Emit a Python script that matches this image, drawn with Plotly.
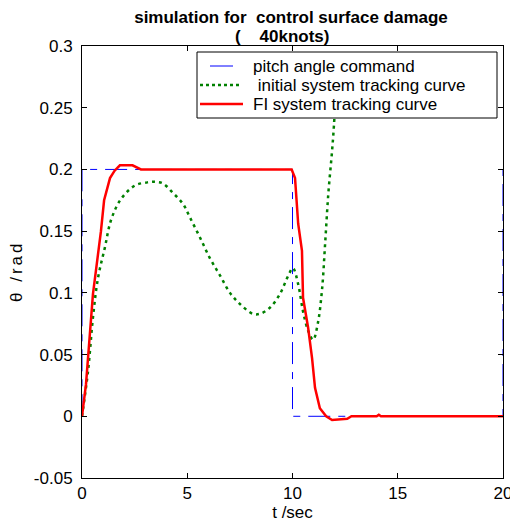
import plotly.graph_objects as go

# ---- data ----
t_cmd = [0, 0, 10, 10, 20, 20]
y_cmd = [0, 0.2, 0.2, 0, 0, 0.2]

t_init = [0, 0.29, 0.52, 0.76, 1.09, 1.38, 1.85, 2.52, 3.1, 3.47, 3.85, 4.32, 4.8, 5.13,
          5.6, 6.08, 6.56, 7.03, 7.5, 8.12, 8.45, 8.93, 9.4, 9.8, 10.02, 10.27, 10.5,
          10.75, 10.98, 11.2, 11.4, 11.55, 11.7, 11.88, 11.97, 12.12]
y_init = [0, 0.037, 0.080, 0.112, 0.137, 0.159, 0.176, 0.187, 0.1895, 0.190, 0.1886, 0.181,
          0.172, 0.161, 0.145, 0.128, 0.114, 0.100, 0.091, 0.083, 0.083, 0.088, 0.099,
          0.114, 0.120, 0.107, 0.085, 0.069, 0.062, 0.075, 0.102, 0.140, 0.180, 0.215,
          0.236, 0.285]

t_fi = [0, 0.19, 0.52, 0.9, 1.05, 1.33, 1.55, 1.8, 2.4, 2.8, 9.96, 10.12, 10.27, 10.45,
        10.5, 10.74, 10.93, 11.07, 11.3, 11.6, 11.88, 12.6, 12.8, 14.0, 14.1, 14.2, 20]
y_fi = [0, 0.026, 0.099, 0.150, 0.175, 0.193, 0.199, 0.2033, 0.2033, 0.200, 0.200, 0.193,
        0.156, 0.134, 0.096, 0.072, 0.047, 0.023, 0.0065, 0.0, -0.003, -0.002, 0.0, 0.0,
        0.0012, 0.0, 0.0]

series_names = ["pitch angle command", " initial system tracking curve", "FI system tracking curve"]
series_colors = ["blue", "#008000", "red"]

x_ticks = [0, 5, 10, 15, 20]
x_tick_labels = ["0", "5", "10", "15", "20"]
y_ticks = [-0.05, 0, 0.05, 0.1, 0.15, 0.2, 0.25, 0.3]
y_tick_labels = ["-0.05", "0", "0.05", "0.1", "0.15", "0.2", "0.25", "0.3"]

FONT = "Liberation Sans, Arial, sans-serif"
FS = 17

# plot-area geometry (pixels) for placing decorations
W, H = 510, 523
L, R, T, B = 82, 503, 46, 478


def px_x(p):
    return (p - L) / (R - L)


def px_y(p):
    return (B - p) / (B - T)


fig = go.Figure()
fig.add_trace(go.Scatter(x=t_cmd, y=y_cmd, mode="lines", name=series_names[0],
                         line=dict(color=series_colors[0], width=1, dash="22px,8px,7px,8px")))
fig.add_trace(go.Scatter(x=t_init, y=y_init, mode="lines", name=series_names[1],
                         line=dict(color=series_colors[1], width=2.5, dash="3px,4px", shape="spline")))
fig.add_trace(go.Scatter(x=t_fi, y=y_fi, mode="lines", name=series_names[2],
                         line=dict(color=series_colors[2], width=2.5)))

axis_common = dict(showline=True, linecolor="black", linewidth=1, mirror="ticks",
                   ticks="inside", ticklen=5, tickcolor="black", showgrid=False,
                   zeroline=False, automargin=False, ticklabeloverflow="allow",
                   tickfont=dict(family=FONT, size=FS, color="black"))

# ---- legend (MATLAB-style box drawn inside the axes) ----
shapes = [dict(type="rect", xref="paper", yref="paper", x0=px_x(197), x1=px_x(497),
               y0=px_y(118), y1=px_y(52), fillcolor="white",
               line=dict(color="black", width=1), layer="above")]
rows = [66, 85, 104]
samples = [(210, 233, dict(color="blue", width=1)),
           (200, 242, dict(color="#008000", width=2.5, dash="3px,3px")),
           (200, 243, dict(color="red", width=2.5))]
annotations = []
for (x0, x1, ln), ry, name in zip(samples, rows, series_names):
    shapes.append(dict(type="line", xref="paper", yref="paper", x0=px_x(x0), x1=px_x(x1),
                       y0=px_y(ry), y1=px_y(ry), line=ln, layer="above"))
    annotations.append(dict(text=name, xref="paper", yref="paper", x=px_x(251), y=px_y(ry),
                            xanchor="left", yanchor="middle", showarrow=False,
                            font=dict(family=FONT, size=FS, color="black")))

# second title line
annotations.append(dict(text="<b>(    40knots)</b>", xref="paper", yref="paper",
                        x=px_x(282), y=px_y(36), xanchor="center", yanchor="middle",
                        showarrow=False, font=dict(family=FONT, size=FS, color="black")))
# y-axis label
annotations.append(dict(text="<span style='letter-spacing:3px'>θ /rad</span>", xref="paper", yref="paper",
                        x=px_x(16), y=px_y(272), xanchor="center", yanchor="middle",
                        textangle=-90, showarrow=False,
                        font=dict(family=FONT, size=FS, color="black")))

fig.update_layout(
    width=W, height=H,
    margin=dict(l=L, r=W - R, t=T, b=H - B),
    paper_bgcolor="white", plot_bgcolor="white",
    title=dict(text="<b>simulation for  control surface damage</b>",
               x=291 / W, xanchor="center", xref="container",
               y=1 - 17 / H, yanchor="middle", yref="container",
               font=dict(family=FONT, size=FS, color="black")),
    xaxis=dict(range=[0, 20], tickvals=x_ticks, ticktext=x_tick_labels,
               title=dict(text="t /sec", font=dict(family=FONT, size=FS, color="black"), standoff=1),
               **axis_common),
    yaxis=dict(range=[-0.05, 0.3], tickvals=y_ticks, ticktext=y_tick_labels,
               ticklabelstandoff=5, **axis_common),
    shapes=shapes,
    annotations=annotations,
    showlegend=False,
)

fig.write_html("out.html", config={"displayModeBar": False},
               post_script="document.body.style.margin='0px';document.body.style.overflow='hidden';")
